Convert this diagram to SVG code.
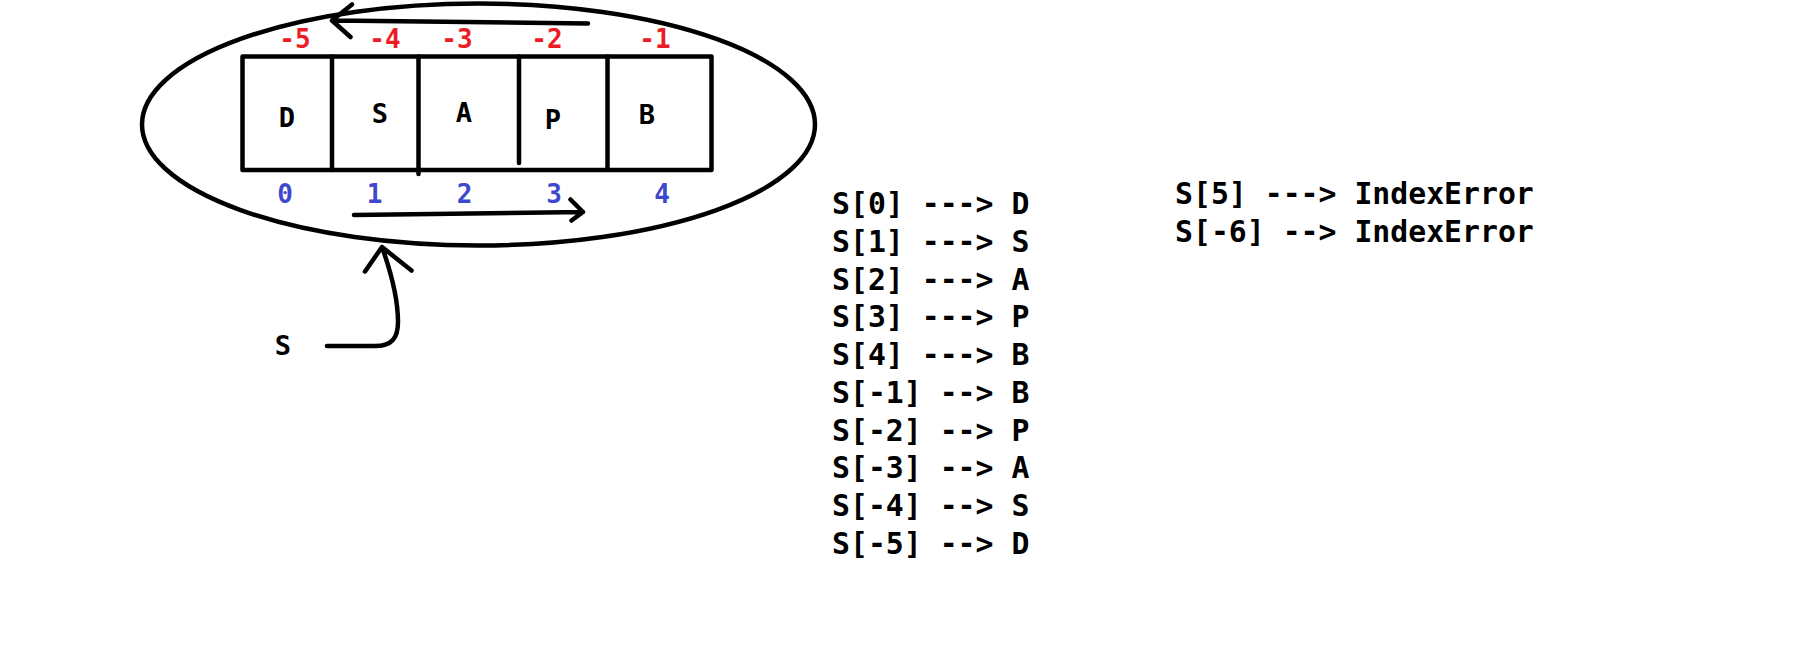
<svg xmlns="http://www.w3.org/2000/svg" width="1813" height="654" viewBox="0 0 1813 654">
<style>
text { font-family: "DejaVu Sans Mono", "Liberation Mono", monospace; font-weight: bold; }
.ln { fill: none; stroke: #000; stroke-width: 4.5; stroke-linecap: round; stroke-linejoin: round; }
.cell { font-size: 27px; fill: #000; text-anchor: middle; }
.neg { font-size: 26px; fill: #ED1C24; text-anchor: middle; }
.pos { font-size: 26px; fill: #3F48CC; text-anchor: middle; }
.code { font-size: 29.8px; fill: #000; white-space: pre; }
</style>
<rect width="1813" height="654" fill="#fff"/>
<g id="string-ellipse">
<ellipse cx="478.5" cy="124.5" rx="336.5" ry="121" class="ln" stroke-width="4.3"/>
</g>
<g id="array">
<rect x="242.5" y="56.5" width="469" height="113.5" class="ln"/>
<line x1="332" y1="56.5" x2="332" y2="170" class="ln"/>
<line x1="418.5" y1="56.5" x2="418.5" y2="174" class="ln"/>
<line x1="519" y1="56.5" x2="519" y2="163" class="ln"/>
<line x1="607.5" y1="56.5" x2="607.5" y2="168" class="ln"/>
<text class="cell" x="287" y="126.5">D</text>
<text class="cell" x="380" y="123">S</text>
<text class="cell" x="464" y="121.5">A</text>
<text class="cell" x="553" y="128.5">P</text>
<text class="cell" x="647" y="124">B</text>
</g>
<g id="negative-indices">
<text class="neg" x="295" y="47.8">-5</text>
<text class="neg" x="385" y="47.8">-4</text>
<text class="neg" x="457" y="47.8">-3</text>
<text class="neg" x="547" y="47.8">-2</text>
<text class="neg" x="655" y="47.8">-1</text>
</g>
<g id="positive-indices">
<text class="pos" x="285" y="203">0</text>
<text class="pos" x="374.5" y="203">1</text>
<text class="pos" x="464.5" y="203">2</text>
<text class="pos" x="554" y="203">3</text>
<text class="pos" x="662" y="203">4</text>
</g>
<g id="var-s">
<text class="cell" x="283" y="355">S</text>
</g>
<g id="connectors">
<path class="ln" d="M588 23.5 L333 20.5 M352 4.5 L332 20.5 L350.5 37"/>
<path class="ln" d="M354 215 L583 212 M570.5 199.5 L583 212 L571.5 220.5"/>
<path class="ln" d="M327 346 L375 346 C391 346 398 339 398 322 C398 300 392 275 382 247 M365 271.5 L382 247 L411.5 270.5"/>
</g>
<g id="index-results">
<text class="code" x="832" y="214">S[0] ---&gt; D</text>
<text class="code" x="832" y="251.75">S[1] ---&gt; S</text>
<text class="code" x="832" y="289.5">S[2] ---&gt; A</text>
<text class="code" x="832" y="327.25">S[3] ---&gt; P</text>
<text class="code" x="832" y="365">S[4] ---&gt; B</text>
<text class="code" x="832" y="402.75">S[-1] --&gt; B</text>
<text class="code" x="832" y="440.5">S[-2] --&gt; P</text>
<text class="code" x="832" y="478.25">S[-3] --&gt; A</text>
<text class="code" x="832" y="516">S[-4] --&gt; S</text>
<text class="code" x="832" y="553.75">S[-5] --&gt; D</text>
</g>
<g id="index-errors">
<text class="code" x="1175" y="204">S[5] ---&gt; IndexError</text>
<text class="code" x="1175" y="242.3">S[-6] --&gt; IndexError</text>
</g>
</svg>
